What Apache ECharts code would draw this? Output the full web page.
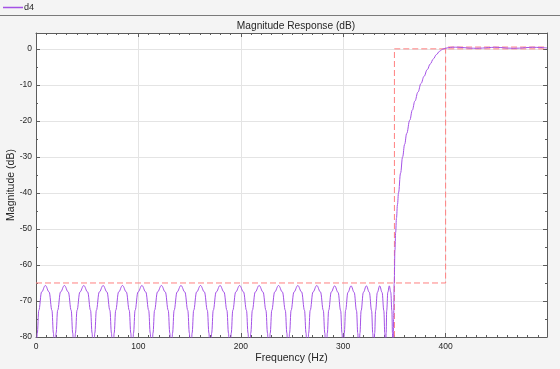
<!DOCTYPE html>
<html>
<head>
<meta charset="utf-8">
<script src="https://cdn.jsdelivr.net/npm/echarts@6/dist/echarts.min.js"></script>
<style>
html,body{margin:0;padding:0;background:#f4f4f4;}
#c{width:560px;height:369px;}
</style>
</head>
<body>
<div id="c"></div>
<script>
// ---- data (frequency in Hz, magnitude in dB) ----
const seriesName = 'd4';
const titleText = 'Magnitude Response (dB)';
const xName = 'Frequency (Hz)';
const yName = 'Magnitude (dB)';

// stopband lobes (nulls drawn below the -80 dB floor)
const stopFreq = [
  0, 1.28, 2.75, 5.49, 9.15, 12.81, 15.56, 17.02,
  18.3, 19.62, 21.14, 23.97, 27.75, 31.53, 34.37, 35.88,
  37.2, 38.52, 40.04, 42.87, 46.65, 50.43, 53.27, 54.78,
  56.1, 57.42, 58.94, 61.77, 65.55, 69.33, 72.17, 73.68,
  75.0, 76.32, 77.84, 80.67, 84.45, 88.23, 91.07, 92.58,
  93.9, 95.23, 96.75, 99.6, 103.4, 107.2, 110.05, 111.57,
  112.9, 114.24, 115.77, 118.63, 122.45, 126.27, 129.14, 130.66,
  132.0, 133.34, 134.87, 137.73, 141.55, 145.37, 148.24, 149.76,
  151.1, 152.44, 153.97, 156.83, 160.65, 164.47, 167.34, 168.86,
  170.2, 171.54, 173.07, 175.93, 179.75, 183.57, 186.44, 187.96,
  189.3, 190.64, 192.17, 195.03, 198.85, 202.67, 205.54, 207.06,
  208.4, 209.73, 211.25, 214.1, 217.9, 221.7, 224.55, 226.07,
  227.4, 228.72, 230.24, 233.07, 236.85, 240.63, 243.47, 244.98,
  246.3, 247.61, 249.11, 251.91, 255.65, 259.39, 262.2, 263.69,
  265.0, 266.28, 267.75, 270.49, 274.15, 277.81, 280.56, 282.02,
  283.3, 284.47, 285.8, 288.31, 291.65, 294.99, 297.5, 298.83,
  300.0, 301.07, 302.3, 304.59, 307.65, 310.71, 313.0, 314.23,
  315.3, 316.32, 317.49, 319.68, 322.6, 325.52, 327.71, 328.88,
  329.9, 330.71, 331.63, 333.35, 335.65, 337.95, 339.68, 340.6,
  341.4, 341.9, 342.48, 343.56, 345.0, 346.44, 347.52, 348.1
];
const stopMag = [
  -90, -78.9, -72.6, -67.5, -65.7, -67.5, -72.6, -78.9,
  -90, -78.9, -72.6, -67.5, -65.7, -67.5, -72.6, -78.9,
  -90, -78.9, -72.6, -67.5, -65.7, -67.5, -72.6, -78.9,
  -90, -78.9, -72.6, -67.5, -65.7, -67.5, -72.6, -78.9,
  -90, -78.9, -72.6, -67.5, -65.7, -67.5, -72.6, -78.9,
  -90, -78.9, -72.6, -67.5, -65.7, -67.5, -72.6, -78.9,
  -90, -78.9, -72.6, -67.5, -65.7, -67.5, -72.6, -78.9,
  -90, -78.9, -72.6, -67.5, -65.7, -67.5, -72.6, -78.9,
  -90, -78.9, -72.6, -67.5, -65.7, -67.5, -72.6, -78.9,
  -90, -78.9, -72.6, -67.5, -65.7, -67.5, -72.6, -78.9,
  -90, -78.9, -72.6, -67.5, -65.7, -67.5, -72.6, -78.9,
  -90, -78.9, -72.6, -67.5, -65.7, -67.5, -72.6, -78.9,
  -90, -78.9, -72.6, -67.5, -65.7, -67.5, -72.6, -78.9,
  -90, -78.9, -72.6, -67.5, -65.7, -67.5, -72.6, -78.9,
  -90, -78.9, -72.6, -67.5, -65.7, -67.5, -72.6, -78.9,
  -90, -78.9, -72.6, -67.5, -65.8, -67.6, -72.7, -79.0,
  -90, -78.9, -72.6, -67.6, -65.8, -67.6, -72.7, -79.0,
  -90, -79.0, -72.7, -67.6, -65.8, -67.6, -72.7, -79.0,
  -90, -79.0, -72.7, -67.6, -65.8, -67.6, -72.7, -79.0,
  -90, -79.0, -72.7, -67.6, -65.8, -67.6, -72.7, -79.0
];
// transition band
const transFreq = [348.6, 349.2, 349.8, 350.5, 351.2, 352, 353, 354, 356, 358, 360, 362, 365, 367.5, 370, 373, 376, 379, 382, 385, 388, 391, 394, 397, 400];
const transMag  = [-90, -75, -65, -56, -51, -47, -43.2, -40, -34.5, -30, -26.5, -23.5, -19.8, -17, -14.5, -12, -9.6, -7.6, -5.8, -4.2, -2.8, -1.6, -0.7, -0.1, 0.15];
// passband ripple
const passFreq = [403, 407, 412, 418, 424, 430, 436, 442, 448, 454, 460, 466, 472, 478, 485, 492, 499];
const passMag  = [0.35, 0.46, 0.45, 0.33, 0.2, 0.15, 0.22, 0.36, 0.44, 0.36, 0.22, 0.15, 0.2, 0.34, 0.44, 0.38, 0.25];

// specification mask (dashed)
const maskAFreq = [0, 400, 400, 499];
const maskAMag  = [-65, -65, 0.5, 0.5];
const maskBFreq = [350, 350, 499];
const maskBMag  = [-80, 0, 0];

// axes
const xMin = 0, xMax = 499, xStep = 100;
const yMin = -80, yMax = 4.4, yStep = 10;

// ---- build ----
const zip = (a, b) => a.map((v, i) => [v, b[i]]);
const respData = zip(stopFreq, stopMag).concat(zip(transFreq, transMag), zip(passFreq, passMag));

const purple = '#a452e6';
const maskColor = '#ff8080';
const axisColor = '#5c5c5c';
const textColor = '#262626';
const fontFam = '"Liberation Sans", Arial, Helvetica, sans-serif';

const baseX = {
  type: 'value', min: xMin, max: xMax, interval: xStep,
  axisLine: { show: true, onZero: false, lineStyle: { color: axisColor, width: 1 } },
  axisTick: { show: true, inside: true, length: 4, lineStyle: { color: axisColor } },
  minorTick: { show: true, splitNumber: 10, length: 2, lineStyle: { color: axisColor } },
};
const baseY = {
  type: 'value', min: yMin, max: yMax, interval: yStep,
  axisLine: { show: true, onZero: false, lineStyle: { color: axisColor, width: 1 } },
  axisTick: { show: true, inside: true, length: 4, lineStyle: { color: axisColor } },
  minorTick: { show: true, splitNumber: 2, length: 2, lineStyle: { color: axisColor } },
};

const chart = echarts.init(document.getElementById('c'), null, { renderer: 'canvas' });
chart.setOption({
  backgroundColor: '#f4f4f4',
  animation: false,
  textStyle: { fontFamily: fontFam },
  title: {
    text: titleText, left: 291, top: 16, textAlign: 'center',
    textStyle: { fontSize: 10.2, fontWeight: 'normal', color: textColor, fontFamily: fontFam }
  },
  legend: {
    data: [{ name: seriesName, icon: 'rect', itemStyle: { color: purple, opacity: 1 } }],
    left: 3, top: 3, itemWidth: 20, itemHeight: 1.5, padding: 0,
    itemStyle: { color: purple },
    textStyle: { fontSize: 9, color: textColor, fontFamily: fontFam, padding: [0, 0, 0, -4] }
  },
  graphic: [{
    type: 'line', shape: { x1: 0, y1: 15.5, x2: 560, y2: 15.5 },
    style: { stroke: '#7a7a7a', lineWidth: 1 }, silent: true
  }],
  grid: { left: 36, right: 13, top: 33, bottom: 32, backgroundColor: '#ffffff', show: true, borderWidth: 0,
          containLabel: false, outerBoundsMode: 'none' },
  xAxis: [
    Object.assign({}, baseX, {
      position: 'bottom',
      name: xName, nameLocation: 'middle', nameGap: 16, nameMoveOverlap: false,
      nameTextStyle: { fontSize: 10.5, color: textColor, fontFamily: fontFam },
      axisLabel: { show: true, margin: 5, fontSize: 8.5, color: textColor, showMaxLabel: false, fontFamily: fontFam },
      splitLine: { show: true, lineStyle: { color: '#e4e4e4', width: 1 } }
    }),
    Object.assign({}, baseX, {
      position: 'top', axisLabel: { show: false }, splitLine: { show: false }
    })
  ],
  yAxis: [
    Object.assign({}, baseY, {
      position: 'left',
      name: yName, nameLocation: 'middle', nameGap: 19, nameMoveOverlap: false,
      nameTextStyle: { fontSize: 10.5, color: textColor, fontFamily: fontFam },
      axisLabel: { show: true, margin: 4, fontSize: 8.5, color: textColor, showMaxLabel: false, fontFamily: fontFam },
      splitLine: { show: true, lineStyle: { color: '#e4e4e4', width: 1 } }
    }),
    Object.assign({}, baseY, {
      position: 'right', axisLabel: { show: false }, splitLine: { show: false }
    })
  ],
  series: [
    {
      name: 'maskA', type: 'line', data: zip(maskAFreq, maskAMag), symbol: 'none',
      lineStyle: { color: maskColor, width: 1, type: [6, 3] }, z: 3, silent: true
    },
    {
      name: 'maskB', type: 'line', data: zip(maskBFreq, maskBMag), symbol: 'none',
      lineStyle: { color: maskColor, width: 1, type: [6, 3] }, z: 3, silent: true
    },
    {
      name: seriesName, type: 'line', data: respData, symbol: 'none',
      smooth: 0.4, smoothMonotone: 'x', clip: true,
      itemStyle: { color: purple },
      lineStyle: { color: purple, width: 1 }, z: 4
    }
  ]
});
</script>
</body>
</html>
